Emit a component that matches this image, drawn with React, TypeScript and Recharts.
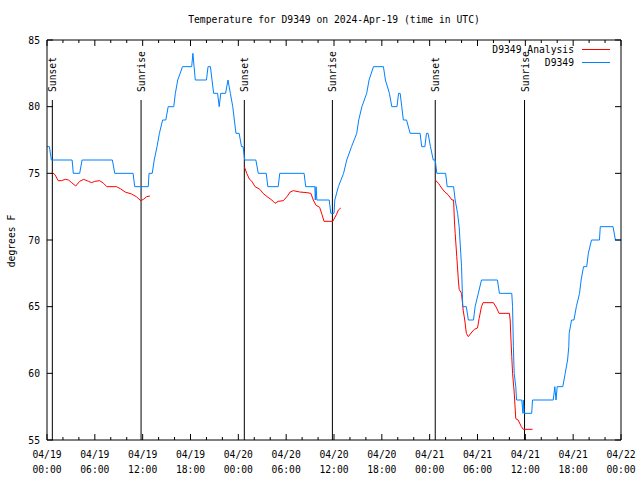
import React from 'react';
import { LineChart, Line, XAxis, YAxis, ReferenceLine, Legend } from 'recharts';

const FONT = '"DejaVu Sans Mono", "Liberation Mono", monospace';
const FS = 9.7;

// hours since 04/19 00:00 UTC
const xTicks = [0, 2, 4, 6, 8, 10, 12, 14, 16, 18, 20, 22, 24, 26, 28, 30, 32, 34, 36, 38, 40, 42, 44, 46, 48, 50, 52, 54, 56, 58, 60, 62, 64, 66, 68, 70, 72];
const majorTicks = [0, 6, 12, 18, 24, 30, 36, 42, 48, 54, 60, 66, 72];
const tickDates = ['04/19', '04/19', '04/19', '04/19', '04/20', '04/20', '04/20', '04/20', '04/21', '04/21', '04/21', '04/21', '04/22'];
const tickTimes = ['00:00', '06:00', '12:00', '18:00', '00:00', '06:00', '12:00', '18:00', '00:00', '06:00', '12:00', '18:00', '00:00'];
const yTicks = [55, 60, 65, 70, 75, 80, 85];

const sunHours = [0.67, 11.8, 24.75, 35.8, 48.7, 59.9];
const sunLabels = ['Sunset', 'Sunrise', 'Sunset', 'Sunrise', 'Sunset', 'Sunrise'];

const legendNames = ['D9349 Analysis', 'D9349'];
const legendColors = ['#ff0000', '#0080ff'];

// observations (D9349), [hour, degF]
const obsDay1: [number, number][] = [
  [0, 77], [0.3, 77], [0.55, 76], [3.15, 76], [3.3, 75], [4.1, 75], [4.4, 76], [8.2, 76], [8.5, 75],
  [10.8, 75], [11.0, 74], [12.7, 74], [12.8, 75], [13.2, 75], [13.45, 76], [13.8, 77], [14.1, 78],
  [14.5, 79], [14.9, 79], [15.2, 80], [15.9, 80], [16.1, 81], [16.4, 82], [17.0, 83], [18.15, 83],
  [18.3, 84], [18.45, 83], [18.6, 82], [20.0, 82], [20.2, 83], [20.5, 83], [20.7, 82], [20.9, 81],
  [21.4, 81], [21.6, 80], [21.8, 81], [22.4, 81], [22.7, 82], [23.0, 81], [23.3, 80], [23.5, 79],
  [23.7, 78], [24.1, 78], [24.4, 77], [24.6, 77], [24.8, 76],
];
const obsDay2: [number, number][] = [
  [26.2, 76], [26.5, 75], [27.5, 75], [27.7, 74], [29.0, 74], [29.2, 75], [32.25, 75], [32.45, 74],
  [33.6, 74], [33.65, 73], [33.75, 74], [33.85, 73], [35.4, 73], [35.6, 72], [36.0, 72], [36.1, 73],
  [36.55, 74], [37.2, 75], [37.6, 76], [38.2, 77], [38.85, 78], [39.1, 79], [39.5, 80], [40.1, 81],
  [40.4, 82], [40.95, 83], [42.2, 83], [42.45, 82], [42.95, 81], [43.25, 80], [43.9, 80], [44.1, 81],
  [44.3, 81], [44.5, 80], [44.7, 79], [45.1, 79], [45.55, 78], [46.8, 78], [47.0, 77], [47.4, 77],
  [47.6, 78], [47.8, 78], [48.1, 77], [48.45, 76], [48.7, 76],
];
const obsDay3: [number, number][] = [
  [48.9, 75], [50.0, 75], [50.2, 74], [51.0, 74], [51.2, 73], [51.5, 72], [51.7, 71], [51.8, 70],
  [51.9, 69], [52.0, 68], [52.1, 66], [52.15, 65], [52.6, 65], [52.85, 64], [53.5, 64], [53.7, 65],
  [54.1, 66], [54.5, 67], [56.5, 67], [56.75, 66], [58.3, 66], [58.4, 65], [58.5, 62], [58.6, 60],
  [58.8, 59], [58.9, 58], [59.55, 58], [59.7, 57], [59.75, 58], [59.85, 57], [60.8, 57], [60.9, 58],
  [63.5, 58], [63.7, 59], [63.85, 58], [64.0, 59], [64.7, 59], [65.0, 60], [65.3, 61], [65.45, 62],
  [65.5, 63], [65.8, 64], [66.1, 64], [66.4, 65], [66.8, 66], [67.0, 67], [67.3, 68], [67.7, 68],
  [67.9, 69], [68.3, 70], [69.3, 70], [69.4, 71], [71.0, 71], [71.3, 70], [72, 70],
];

// analysis (D9349 Analysis), one run per night
const anaNight1: [number, number][] = [
  [0.6, 75.1], [1.0, 74.9], [1.4, 74.45], [1.8, 74.45], [2.3, 74.55], [2.7, 74.5], [3.1, 74.3],
  [3.6, 74.05], [4.1, 74.4], [4.6, 74.55], [5.2, 74.4], [5.6, 74.3], [6.0, 74.4], [6.6, 74.45],
  [7.1, 74.25], [7.5, 74.0], [8.7, 74.0], [9.2, 73.85], [9.8, 73.6], [10.6, 73.45], [11.2, 73.25],
  [11.75, 72.95], [12.1, 73.05], [12.5, 73.25], [12.9, 73.3],
];
const anaNight2: [number, number][] = [
  [24.75, 75.5], [25.05, 75.0], [25.4, 74.55], [25.7, 74.4], [26.1, 74.0], [26.7, 73.8], [27.1, 73.5],
  [27.6, 73.25], [28.2, 73.0], [28.6, 72.75], [29.0, 72.9], [29.65, 72.95], [30.1, 73.25], [30.5, 73.6],
  [30.9, 73.7], [31.7, 73.6], [32.6, 73.55], [33.1, 73.5], [33.4, 73.0], [33.75, 72.6], [34.2, 72.45],
  [34.5, 71.9], [34.75, 71.4], [35.85, 71.4], [36.3, 71.9], [36.55, 72.25], [36.85, 72.4],
];
const anaNight3: [number, number][] = [
  [48.7, 74.5], [49.1, 74.25], [49.5, 73.9], [49.9, 73.6], [50.3, 73.4], [50.8, 73.0], [51.0, 73.0],
  [51.1, 71.5], [51.2, 70.5], [51.4, 68.75], [51.6, 67.0], [51.7, 66.3], [52.0, 66.0], [52.2, 64.75],
  [52.4, 64.0], [52.6, 63.0], [52.85, 62.75], [53.3, 63.1], [53.6, 63.3], [54.0, 63.4], [54.2, 64.1],
  [54.5, 65.0], [54.7, 65.3], [56.0, 65.3], [56.4, 64.9], [56.7, 64.5], [58.0, 64.5], [58.1, 64.0],
  [58.2, 62.5], [58.3, 61.25], [58.4, 60.0], [58.6, 58.6], [58.8, 56.6], [59.1, 56.5], [59.5, 56.0],
  [59.75, 55.8], [60.9, 55.8],
];

const toPts = (a: [number, number][]) => a.map(([h, v]) => ({ h, v }));
const obsData = toPts([...obsDay1, ...obsDay2, ...obsDay3]);
const anaRuns = [anaNight1, anaNight2, anaNight3].map(toPts);

const txt = { fontFamily: FONT, fontSize: FS, fill: '#000' };

function BottomTick({ x, y, payload }: any) {
  const i = majorTicks.indexOf(payload.value);
  const len = i >= 0 ? 6 : 3;
  return (
    <g>
      <line x1={x} x2={x} y1={y} y2={y - len} stroke="#000" />
      {i >= 0 && (
        <text x={x} y={y} textAnchor="middle" {...txt}>
          <tspan x={x} dy={17.5}>{tickDates[i]}</tspan>
          <tspan x={x} dy={15}>{tickTimes[i]}</tspan>
        </text>
      )}
    </g>
  );
}

function TopTick({ x, y, payload }: any) {
  const len = majorTicks.includes(payload.value) ? 6 : 3;
  return <line x1={x} x2={x} y1={y} y2={y + len} stroke="#000" />;
}

function LeftTick({ x, y, payload }: any) {
  return (
    <g>
      <line x1={x} x2={x + 6} y1={y} y2={y} stroke="#000" />
      <text x={x - 7} y={y} dy={3.5} textAnchor="end" {...txt}>{payload.value}</text>
    </g>
  );
}

function RightTick({ x, y }: any) {
  return <line x1={x} x2={x - 6} y1={y} y2={y} stroke="#000" />;
}

function SunLabel({ viewBox, text }: { viewBox: any; text: string }) {
  const x = viewBox.x + 4;
  const y = viewBox.y - 8;
  return (
    <text x={x} y={y} transform={`rotate(-90 ${x} ${y})`} textAnchor="start" {...txt}>
      {text}
    </text>
  );
}

function LegendBox() {
  return (
    <div style={{ fontFamily: FONT, fontSize: FS, lineHeight: '13px', color: '#000' }}>
      {legendNames.map((n, i) => (
        <div key={n} style={{ display: 'flex', justifyContent: 'flex-end', alignItems: 'center', height: 13 }}>
          <span style={{ whiteSpace: 'pre' }}>{n}</span>
          <svg width={36} height={13} style={{ display: 'block' }}>
            <line x1={8} x2={36} y1={6.5} y2={6.5} stroke={legendColors[i]} />
          </svg>
        </div>
      ))}
    </div>
  );
}

export default function App() {
  return (
    <div style={{ position: 'relative', width: 640, height: 480, background: '#fff' }}>
      <style>{`body{margin:0}`}</style>
      <div
        style={{
          position: 'absolute', top: 13, left: 0, width: 668, textAlign: 'center',
          fontFamily: FONT, fontSize: FS, lineHeight: '14px', color: '#000', zIndex: 1,
        }}
      >
        Temperature for D9349 on 2024-Apr-19 (time in UTC)
      </div>
      <LineChart width={640} height={480} margin={{ top: 39, right: 18, bottom: 0, left: 0 }}>
        <XAxis
          xAxisId="b" dataKey="h" type="number" domain={[0, 72]} allowDataOverflow
          ticks={xTicks} interval={0} height={40} tickSize={0} tickMargin={0}
          axisLine={{ stroke: '#000' }} tickLine={false} tick={<BottomTick />}
        />
        <XAxis
          xAxisId="t" orientation="top" dataKey="h" type="number" domain={[0, 72]} allowDataOverflow
          ticks={xTicks} interval={0} height={1} tickSize={0} tickMargin={0}
          axisLine={{ stroke: '#000' }} tickLine={false} tick={<TopTick />}
        />
        <YAxis
          yAxisId="l" type="number" domain={[55, 85]} allowDataOverflow ticks={yTicks} interval={0}
          width={47} tickSize={0} tickMargin={0} axisLine={{ stroke: '#000' }} tickLine={false}
          tick={<LeftTick />}
          label={(p: any) => {
            const vb = p.viewBox || { x: 0, y: 40, height: 400 };
            const cx = 11;
            const cy = vb.y + vb.height / 2 + 1;
            return (
              <text x={cx} y={cy} dy={3.5} transform={`rotate(-90 ${cx} ${cy})`} textAnchor="middle" {...txt}>
                degrees F
              </text>
            );
          }}
        />
        <YAxis
          yAxisId="r" orientation="right" type="number" domain={[55, 85]} allowDataOverflow ticks={yTicks}
          interval={0} width={1} tickSize={0} tickMargin={0} axisLine={{ stroke: '#000' }} tickLine={false}
          tick={<RightTick />}
        />
        {sunHours.map((h, i) => (
          <ReferenceLine
            key={'sun' + i}
            xAxisId="b"
            yAxisId="l"
            segment={[{ x: h, y: 80.5 }, { x: h, y: 55 }]}
            stroke="#000"
            strokeWidth={1}
            label={(p: any) => <SunLabel viewBox={p.viewBox} text={sunLabels[i]} />}
          />
        ))}
        {anaRuns.map((run, i) => (
          <Line
            key={'ana' + i}
            xAxisId="b"
            yAxisId="l"
            data={run}
            dataKey="v"
            type="linear"
            stroke={legendColors[0]}
            strokeWidth={1}
            dot={false}
            activeDot={false}
            isAnimationActive={false}
          />
        ))}
        <Line
          xAxisId="b"
          yAxisId="l"
          data={obsData}
          dataKey="v"
          type="linear"
          stroke={legendColors[1]}
          strokeWidth={1}
          dot={false}
          activeDot={false}
          isAnimationActive={false}
        />
        <Legend
          layout="horizontal"
          verticalAlign="middle"
          align="center"
          content={<LegendBox />}
          wrapperStyle={{ top: 43, left: 398, width: 212, height: 26, bottom: 'auto', right: 'auto' }}
        />
      </LineChart>
    </div>
  );
}
